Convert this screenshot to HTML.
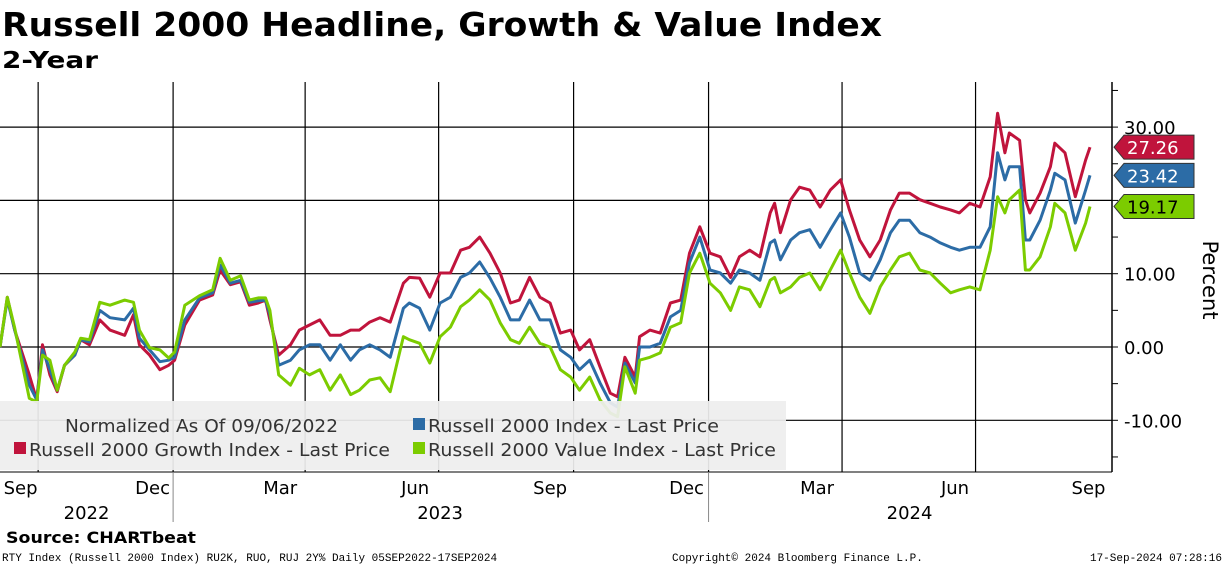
<!DOCTYPE html>
<html><head><meta charset="utf-8"><style>
body{margin:0;width:1224px;height:566px;background:#fff;overflow:hidden;font-family:"DejaVu Sans","Liberation Sans",sans-serif}
</style></head><body>
<svg width="1224" height="566" style="position:absolute;left:0;top:0">
<text x="2" y="36" font-size="33" font-weight="bold" textLength="880" lengthAdjust="spacingAndGlyphs">Russell 2000 Headline, Growth &amp; Value Index</text>
<text x="2" y="68" font-size="23" font-weight="bold" textLength="96" lengthAdjust="spacingAndGlyphs">2-Year</text>
<g id="grid"></g>
<g id="lines"></g>
<g id="axes"></g>
<rect x="0" y="401" width="786" height="69" fill="#eeeeee" opacity="0.93"/>
<text x="65" y="432" font-size="18" fill="#333" textLength="273" lengthAdjust="spacingAndGlyphs">Normalized As Of 09/06/2022</text>
<rect x="413" y="418" width="12" height="12" fill="#2c6ca6"/>
<text x="428" y="432" font-size="18" fill="#333" textLength="291" lengthAdjust="spacingAndGlyphs">Russell 2000 Index - Last Price</text>
<rect x="14" y="442" width="12" height="12" fill="#c0143c"/>
<text x="29" y="456" font-size="18" fill="#333" textLength="361" lengthAdjust="spacingAndGlyphs">Russell 2000 Growth Index - Last Price</text>
<rect x="413" y="442" width="12" height="12" fill="#7ccc00"/>
<text x="428" y="456" font-size="18" fill="#333" textLength="348" lengthAdjust="spacingAndGlyphs">Russell 2000 Value Index - Last Price</text>
<text x="1203" y="280" font-size="21" transform="rotate(90 1203 280)" text-anchor="middle">Percent</text>
<text x="6" y="543" font-size="16" font-weight="bold" textLength="190" lengthAdjust="spacingAndGlyphs">Source: CHARTbeat</text>
<text x="2" y="561" font-size="11" font-family="Liberation Mono, monospace">RTY Index (Russell 2000 Index) RU2K, RUO, RUJ 2Y%  Daily 05SEP2022-17SEP2024</text>
<text x="672" y="561" font-size="11" font-family="Liberation Mono, monospace">Copyright© 2024 Bloomberg Finance L.P.</text>
<text x="1222" y="561" font-size="11" text-anchor="end" font-family="Liberation Mono, monospace">17-Sep-2024 07:28:16</text>
</svg>
<script>
const days=[0,5,10,20,25,29,34,39,44,51,55,61,68,75,85,91,95,102,109,115,119,126,136,145,150,157,164,170,176,181,184,190,198,204,211,218,225,232,239,245,252,259,266,275,279,286,293,300,307,314,320,327,334,341,348,354,361,368,375,382,389,395,402,409,416,421,426,433,436,443,450,457,464,470,477,484,491,498,504,511,518,525,528,532,539,545,552,559,566,573,579,586,593,600,607,613,620,627,634,641,648,654,661,668,675,680,685,688,695,699,702,709,716,719,726,733,740,743];
const growth=[0,6.8,2.3,-3.8,-7.2,0.3,-3.8,-6.1,-2.5,-1.1,1.0,0.3,3.7,2.3,1.6,4.4,0.3,-1.1,-3.1,-2.5,-1.8,3.0,6.4,7.1,10.5,8.5,8.9,5.7,6.0,6.4,3.7,-1.1,0.3,2.3,3.0,3.7,1.6,1.6,2.3,2.3,3.4,4.0,3.4,8.7,9.5,9.4,6.8,10.1,10.1,13.2,13.6,15.0,12.8,10.1,6.0,6.4,9.5,6.8,6.0,1.9,2.3,-0.4,1.0,-2.7,-6.3,-6.8,-1.4,-4.1,1.4,2.3,1.9,6.0,6.4,12.8,16.4,12.8,12.3,9.5,12.3,13.2,12.3,18.3,19.6,15.6,20.1,21.8,21.4,19.1,21.4,22.8,18.7,14.6,12.3,14.6,18.7,21.0,21.0,20.1,19.6,19.1,18.7,18.3,19.6,19.1,23.2,31.9,26.5,29.2,28.2,20.1,18.3,21.0,24.6,27.8,26.5,20.5,25.5,27.26];
const index=[0,6.5,2.3,-5.2,-7.2,-0.4,-3.1,-5.9,-2.5,-1.1,1.0,0.7,5.0,4.0,3.7,5.3,1.2,-0.4,-2.0,-1.8,-1.4,3.7,6.7,7.4,11.2,8.7,9.1,6.1,6.3,6.4,4.4,-2.5,-1.8,-0.4,0.3,0.3,-1.8,0.3,-1.8,-0.4,0.3,-0.4,-1.4,5.3,6.0,5.3,2.3,6.0,6.8,9.5,10.1,11.6,9.4,6.8,3.7,3.7,6.4,3.7,3.7,-0.4,-1.4,-3.1,-1.8,-4.9,-7.6,-8.2,-2.2,-4.9,0.0,0.0,0.5,4.1,5.0,11.5,15.0,10.5,10.1,8.7,10.5,10.1,9.1,14.2,14.6,11.9,14.6,15.6,16.0,13.6,16.0,18.3,15.0,10.1,9.1,11.9,15.6,17.3,17.3,15.6,15.0,14.2,13.6,13.2,13.6,13.6,16.4,26.5,22.8,24.6,24.6,14.6,14.6,17.3,21.4,23.7,22.8,16.9,21.4,23.42];
const value=[0,6.8,2.6,-7.0,-7.5,-1.1,-1.8,-5.9,-2.5,-0.7,1.2,1.0,6.1,5.7,6.4,6.1,2.3,-0.1,-0.4,-1.5,-0.7,5.7,7.0,7.8,12.1,9.1,9.7,6.4,6.7,6.7,5.0,-3.8,-5.2,-2.9,-3.8,-3.1,-5.9,-3.8,-6.5,-5.9,-4.5,-4.2,-6.1,1.4,1.0,0.5,-2.2,1.4,2.7,5.5,6.4,7.8,6.4,3.3,1.0,0.5,2.7,0.5,0.0,-3.1,-4.1,-5.9,-4.1,-7.2,-9.0,-9.5,-2.7,-6.3,-1.8,-1.4,-0.8,2.7,3.3,10.1,12.8,8.7,7.4,5.0,8.2,7.8,5.5,9.1,9.5,7.4,8.2,9.5,10.1,7.8,10.5,13.2,10.1,6.8,4.6,8.2,10.5,12.3,12.8,10.5,10.1,8.7,7.4,7.8,8.2,7.8,13.2,20.5,18.3,20.1,21.4,10.5,10.5,12.3,16.4,19.6,18.3,13.2,16.9,19.17];
const yTicks=[30,20,10,0,-10];
const yTickLabels=["30.00","","10.00","0.00","-10.00"];
const monthLabels=["Sep","Dec","Mar","Jun","Sep","Dec","Mar","Jun","Sep"];
const monthDays=[14,104,191,283,375,468,557,651,742];
const gridDays=[26,118,208,299,391,483,574,665];
const yearLabels=["2022","2023","2024"];
const yearDays=[59,300,620];
const yearSepDays=[118,483];

const NS="http://www.w3.org/2000/svg";
const X=d=>d*1.467, Y=v=>347-v*7.33;
function mk(t,a,p){const e=document.createElementNS(NS,t);for(const k in a)e.setAttribute(k,a[k]);p.appendChild(e);return e;}
const grid=document.getElementById('grid'),lines=document.getElementById('lines'),axes=document.getElementById('axes');
yTicks.forEach(v=>{const l=mk('line',{x1:0,x2:1112,y1:Y(v),y2:Y(v),stroke:'#000','stroke-width':1.2},grid);

});
gridDays.forEach(d=>{const l=mk('line',{x1:X(d),x2:X(d),y1:82,y2:472,stroke:'#000','stroke-width':1.2},grid);

});
[[growth,'#c0143c','line-growth'],[index,'#2c6ca6','line-index'],[value,'#7ccc00','line-value']].forEach(([s,c,n])=>{
const p=mk('path',{d:s.map((v,i)=>(i?'L':'M')+X(days[i]).toFixed(1)+','+Y(v).toFixed(1)).join(''),fill:'none',stroke:c,'stroke-width':3,'stroke-linejoin':'round'},lines);

});
mk('line',{x1:1112,x2:1112,y1:82,y2:472,stroke:'#000','stroke-width':1.5},axes);
mk('line',{x1:0,x2:1112,y1:472,y2:472,stroke:'#000','stroke-width':1},axes);
for(let v=-15;v<=35;v+=5){mk('line',{x1:1112,x2:1118,y1:Y(v),y2:Y(v),stroke:'#000'},axes);}
yTicks.forEach((v,i)=>{if(!yTickLabels[i])return;const t=mk('text',{x:1124,y:Y(v)+7,'font-size':18},axes);t.textContent=yTickLabels[i];

});
monthLabels.forEach((m,i)=>{const t=mk('text',{x:X(monthDays[i]),y:494,'font-size':18,'text-anchor':'middle'},axes);t.textContent=m;

});
yearLabels.forEach((m,i)=>{const t=mk('text',{x:X(yearDays[i]),y:519,'font-size':18,'text-anchor':'middle'},axes);t.textContent=m;

});
yearSepDays.forEach(d=>mk('line',{x1:X(d),x2:X(d),y1:472,y2:522,stroke:'#888'},axes));
[[growth,'#c0143c','#fff','growth-last-value'],[index,'#2c6ca6','#fff','index-last-value'],[value,'#7ccc00','#000','value-last-value']].forEach(([s,c,tc,n])=>{
const v=s[s.length-1],y=Y(v);
const g=mk('g',{},axes);


mk('path',{d:`M1114,${y} L1124,${y-12} L1194,${y-12} L1194,${y+12} L1124,${y+12} Z`,fill:c,stroke:'#333','stroke-width':1},g);
const t=mk('text',{x:1127,y:y+7,'font-size':18,fill:tc},g);t.textContent=v.toFixed(2);});
</script>
</body></html>
